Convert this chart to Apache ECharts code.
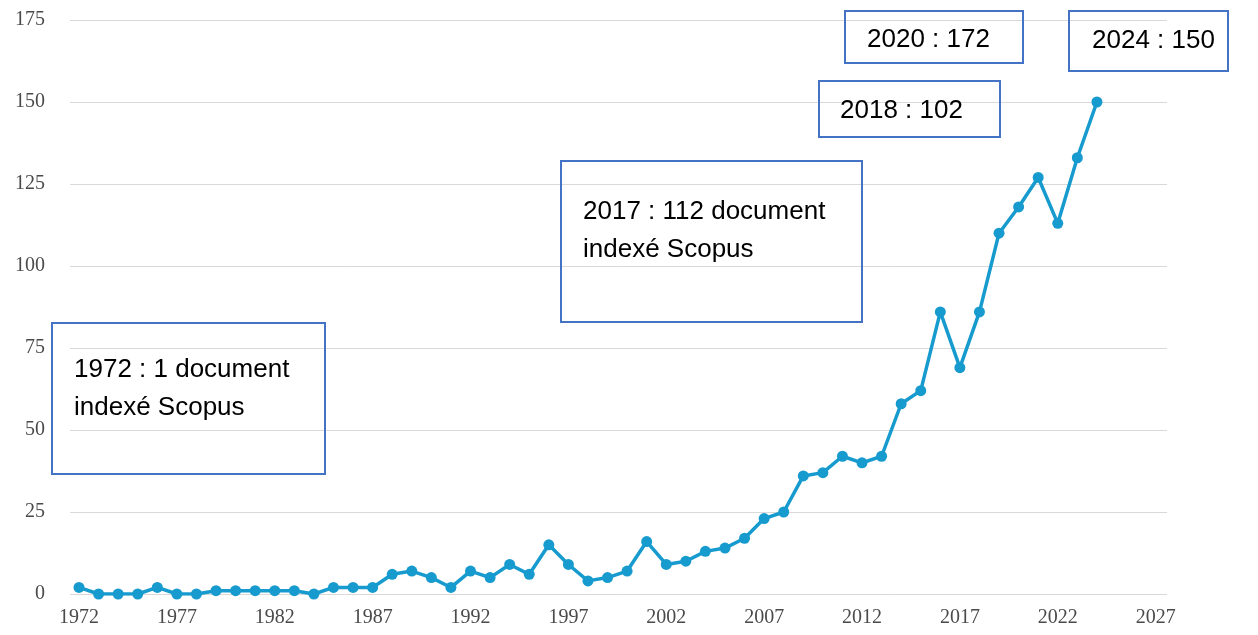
<!DOCTYPE html>
<html>
<head>
<meta charset="utf-8">
<script src="https://cdn.jsdelivr.net/npm/echarts@6/dist/echarts.min.js"></script>
<style>
  html, body { margin: 0; padding: 0; background: #fff; }
  #chart { width: 1258px; height: 635px; }
</style>
</head>
<body>
<div id="chart"></div>
<script>
// documents indexés Scopus par année
const years = [
  1972, 1973, 1974, 1975, 1976, 1977, 1978, 1979, 1980, 1981,
  1982, 1983, 1984, 1985, 1986, 1987, 1988, 1989, 1990, 1991,
  1992, 1993, 1994, 1995, 1996, 1997, 1998, 1999, 2000, 2001,
  2002, 2003, 2004, 2005, 2006, 2007, 2008, 2009, 2010, 2011,
  2012, 2013, 2014, 2015, 2016, 2017, 2018, 2019, 2020, 2021,
  2022, 2023, 2024
]
const docs = [
  2, 0, 0, 0, 2, 0, 0, 1, 1, 1,
  1, 1, 0, 2, 2, 2, 6, 7, 5, 2,
  7, 5, 9, 6, 15, 9, 4, 5, 7, 16,
  9, 10, 13, 14, 17, 23, 25, 36, 37, 42,
  40, 42, 58, 62, 86, 69, 86, 110, 118, 127,
  113, 133, 150
]
const xTicks = [1972, 1977, 1982, 1987, 1992, 1997, 2002, 2007, 2012, 2017, 2022, 2027]
const notes = [
  ['1972 : 1 document', 'indexé Scopus'],
  ['2017 : 112 document', 'indexé Scopus'],
  ['2020 : 172'],
  ['2018 : 102'],
  ['2024 : 150']
]

const boxFont = '26px "Liberation Sans", Arial, sans-serif'
const boxes = [
  {x: 52, y: 323, w: 273, h: 151, tx: 74, ty: 370},
  {x: 561, y: 161, w: 301, h: 161, tx: 583, ty: 212},
  {x: 845, y: 11, w: 178, h: 52, tx: 867, ty: 40},
  {x: 819, y: 81, w: 181, h: 56, tx: 840, ty: 111},
  {x: 1069, y: 11, w: 159, h: 60, tx: 1092, ty: 41}
]

let graphic = []
boxes.forEach((b, i) => {
  graphic.push({
    type: 'rect',
    shape: {x: b.x, y: b.y, width: b.w, height: b.h},
    style: {fill: 'none', stroke: '#4472C4', lineWidth: 2},
    z: 10
  })
  notes[i].forEach((line, j) => {
    graphic.push({
      type: 'text',
      x: b.tx,
      y: b.ty + j * 38,
      style: {text: line, font: boxFont, fill: '#000', verticalAlign: 'middle'},
      z: 11
    })
  })
})

const labelFont = '"Liberation Serif", "DejaVu Serif", serif'
const chart = echarts.init(document.getElementById('chart'))
chart.setOption({
  animation: false,
  grid: {left: 70, right: 91, top: 20, bottom: 41, containLabel: false},
  xAxis: {
    type: 'value',
    min: 1971.54,
    max: 2027.58,
    axisLine: {show: false},
    axisTick: {show: false},
    splitLine: {show: false},
    axisLabel: {
      customValues: xTicks,
      formatter: v => String(v),
      margin: 14,
      color: '#4a4a4a',
      fontFamily: labelFont,
      fontSize: 20
    }
  },
  yAxis: {
    type: 'value',
    min: 0,
    max: 175,
    interval: 25,
    axisLine: {show: false},
    axisTick: {show: false},
    splitLine: {lineStyle: {color: '#d9d9d9', width: 1}},
    axisLabel: {
      margin: 25,
      color: '#4a4a4a',
      fontFamily: labelFont,
      fontSize: 20
    }
  },
  series: [{
    type: 'line',
    data: years.map((y, i) => [y, docs[i]]),
    symbol: 'circle',
    symbolSize: 11,
    lineStyle: {color: '#179BCF', width: 3.5},
    itemStyle: {color: '#179BCF'}
  }],
  graphic: graphic
})
</script>
</body>
</html>
